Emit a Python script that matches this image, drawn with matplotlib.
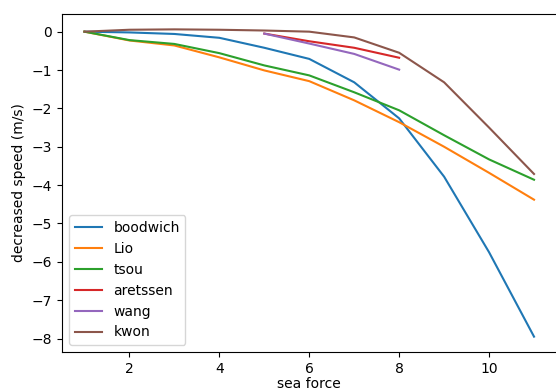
import matplotlib
matplotlib.use("Agg")
import matplotlib.pyplot as plt

x_full = [1, 2, 3, 4, 5, 6, 7, 8, 9, 10, 11]
boodwich = [0, -0.02, -0.06, -0.16, -0.42, -0.71, -1.32, -2.26, -3.78, -5.75, -7.95]
lio = [0, -0.23, -0.36, -0.67, -1.01, -1.29, -1.79, -2.36, -3.0, -3.68, -4.38]
tsou = [0, -0.22, -0.32, -0.56, -0.88, -1.14, -1.58, -2.05, -2.7, -3.33, -3.86]
x_short = [5, 6, 7, 8]
aretssen = [-0.05, -0.25, -0.42, -0.68]
wang = [-0.05, -0.31, -0.58, -0.99]
kwon = [0, 0.05, 0.06, 0.05, 0.03, 0.0, -0.15, -0.55, -1.32, -2.5, -3.71]

fig = plt.figure(figsize=(5.56, 3.92), dpi=100)
ax = fig.add_axes([62/556, 40/392, 494.5/556, 338/392])
ax.plot(x_full, boodwich, label="boodwich")
ax.plot(x_full, lio, label="Lio")
ax.plot(x_full, tsou, label="tsou")
ax.plot(x_short, aretssen, label="aretssen")
ax.plot(x_short, wang, label="wang")
ax.plot(x_full, kwon, label="kwon")
ax.set_xlabel("sea force", labelpad=1)
ax.set_ylabel("decreased speed (m/s)")
ax.legend(loc="lower left")
fig.savefig("out.png", dpi=100)
